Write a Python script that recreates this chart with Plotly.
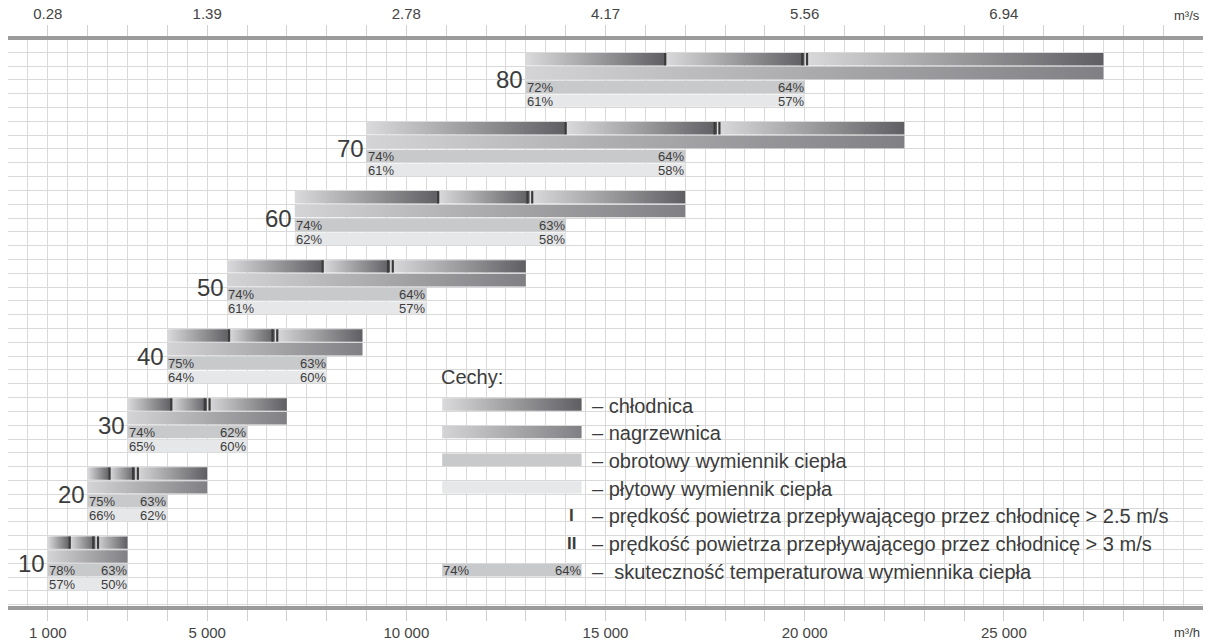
import plotly.graph_objects as go

# unit sizes, top to bottom
sizes = ['80', '70', '60', '50', '40', '30', '20', '10']
flow_start = [13000, 9000, 7200, 5500, 4000, 3000, 2000, 1000]
coil_end = [27500, 22500, 17000, 13000, 8900, 7000, 5000, 3000]
exch_end = [20000, 17000, 14000, 10500, 8000, 6000, 4000, 3000]
speed_25 = [16500, 14000, 10800, 7900, 5550, 4100, 2550, 1550]
speed_3 = [20000, 17800, 13100, 9600, 6700, 5000, 3200, 2200]
rot_eff_max = [72, 74, 74, 74, 75, 74, 75, 78]
rot_eff_min = [64, 64, 63, 64, 63, 62, 63, 63]
plate_eff_max = [61, 61, 62, 61, 64, 65, 66, 57]
plate_eff_min = [57, 58, 58, 57, 60, 60, 62, 50]

bottom_ticks = [1000, 5000, 10000, 15000, 20000, 25000]
bottom_text = ['1 000', '5 000', '10 000', '15 000', '20 000', '25 000']
top_text = ['0.28', '1.39', '2.78', '4.17', '5.56', '6.94']

legend_title = 'Cechy:'
legend_text = ['– chłodnica', '– nagrzewnica', '– obrotowy wymiennik ciepła',
               '– płytowy wymiennik ciepła',
               '– prędkość powietrza przepływającego przez chłodnicę > 2.5 m/s',
               '– prędkość powietrza przepływającego przez chłodnicę > 3 m/s',
               '–  skuteczność temperaturowa wymiennika ciepła']
legend_eff = [74, 64]
legend_x = [10900, 14400]

CHL = ['#dadadc', '#5f5f63']
NAG = ['#d4d4d6', '#808084']
ROT = '#c8c9cb'
PLATE = '#e6e7e8'
MARK = '#3a3a3a'
TXT = '#3c3c3c'
GRID = '#d9d9d9'
INS = 0.05

fig = go.Figure()


def grad_box(x0, x1, row, colors):
    fig.add_trace(go.Scatter(
        x=[x0, x1, x1, x0, x0],
        y=[row + INS, row + INS, row + 1 - INS, row + 1 - INS, row + INS],
        mode='lines', line=dict(width=0), fill='toself',
        fillgradient=dict(type='horizontal',
                          colorscale=[[0, colors[0]], [1, colors[1]]]),
        hoverinfo='skip', showlegend=False))


def flat_bar(x0, x1, row, color):
    fig.add_trace(go.Bar(
        y=[row + 0.5], x=[x1 - x0], base=[x0], orientation='h',
        width=1 - 2 * INS, marker=dict(color=color, line=dict(width=0)),
        hoverinfo='skip', showlegend=False))


annotations = []


def label(x, y, text, anchor, size=13, shift=0):
    annotations.append(dict(x=x, y=y, text=text, showarrow=False,
                            xanchor=anchor, yanchor='middle', xshift=shift,
                            font=dict(size=size, color=TXT)))


mark_x, mark_y = [], []
for g, name in enumerate(sizes):
    r = 5 * g
    # cooler: gradient restarts at each speed marker
    grad_box(flow_start[g], speed_25[g], r, CHL)
    grad_box(speed_25[g], speed_3[g], r, CHL)
    grad_box(speed_3[g], coil_end[g], r, CHL)
    # heater
    grad_box(flow_start[g], coil_end[g], r + 1, NAG)
    # heat exchangers
    flat_bar(flow_start[g], exch_end[g], r + 2, ROT)
    flat_bar(flow_start[g], exch_end[g], r + 3, PLATE)

    for xm in [speed_25[g], speed_3[g] - 60, speed_3[g] + 60]:
        mark_x += [xm, xm, None]
        mark_y += [r + INS, r + 1 - INS, None]

    label(flow_start[g], r + 2.55, f'{rot_eff_max[g]}%', 'left', shift=-1)
    label(exch_end[g], r + 2.55, f'{rot_eff_min[g]}%', 'right', shift=1)
    label(flow_start[g], r + 3.55, f'{plate_eff_max[g]}%', 'left', shift=-1)
    label(exch_end[g], r + 3.55, f'{plate_eff_min[g]}%', 'right', shift=1)
    label(flow_start[g], r + 2.0, name, 'right', size=24, shift=-1)

fig.add_trace(go.Scatter(x=mark_x, y=mark_y, mode='lines',
                         line=dict(color=MARK, width=2.2),
                         hoverinfo='skip', showlegend=False))

# legend block
leg_rows = [25, 27, 29, 31, 33, 35, 37]
grad_box(legend_x[0], legend_x[1], leg_rows[0], CHL)
grad_box(legend_x[0], legend_x[1], leg_rows[1], NAG)
flat_bar(legend_x[0], legend_x[1], leg_rows[2], ROT)
flat_bar(legend_x[0], legend_x[1], leg_rows[3], PLATE)
flat_bar(legend_x[0], legend_x[1], leg_rows[6], ROT)
label(legend_x[0], leg_rows[6] + 0.55, f'{legend_eff[0]}%', 'left', shift=-1)
label(legend_x[1], leg_rows[6] + 0.55, f'{legend_eff[1]}%', 'right', shift=1)
label(legend_x[1], leg_rows[4] + 0.55, '<b>I</b>', 'right', size=17, shift=-6)
label(legend_x[1], leg_rows[5] + 0.55, '<b>II</b>', 'right', size=17, shift=-4)
label(legend_x[0] - 70, 23.5, legend_title, 'left', size=20)
for row, txt in zip(leg_rows, legend_text):
    label(legend_x[1] + 200, row + 0.6, txt, 'left', size=20)

# units
annotations.append(dict(x=29600, y=1.043, yref='paper', text='m³/s',
                        showarrow=False, xanchor='center', yanchor='middle',
                        font=dict(size=13, color=TXT)))
annotations.append(dict(x=29600, y=-0.046, yref='paper', text='m³/h',
                        showarrow=False, xanchor='center', yanchor='middle',
                        font=dict(size=13, color=TXT)))

# dummy trace so the top axis is drawn
fig.add_trace(go.Scatter(x=[0], y=[0], xaxis='x2', mode='markers',
                         marker=dict(opacity=0), hoverinfo='skip',
                         showlegend=False))

tick_vals = list(range(1000, 30000, 1000))
minor_vals = list(range(500, 30000, 1000))
bottom_map = dict(zip(bottom_ticks, bottom_text))
top_map = dict(zip(bottom_ticks, top_text))

axis_common = dict(
    range=[0, 30000], tickmode='array', tickvals=tick_vals,
    ticks='outside', ticklen=11, tickcolor='#d0d0d0', tickwidth=1,
    showline=True, linewidth=4, linecolor='#9b9b9b', zeroline=False,
    tickfont=dict(size=15, color='#444'), fixedrange=True, automargin=False,
)

fig.update_layout(
    width=1211, height=642,
    margin=dict(l=8, r=8, t=40, b=36),
    plot_bgcolor='white', paper_bgcolor='white',
    barmode='overlay', showlegend=False,
    font=dict(family='Liberation Sans, Arial, sans-serif', color=TXT),
    xaxis=dict(
        ticktext=[bottom_map.get(v, '') for v in tick_vals],
        ticklabelstandoff=-1,
        showgrid=True, gridcolor=GRID, gridwidth=1,
        minor=dict(tickvals=minor_vals, showgrid=True, gridcolor=GRID,
                   gridwidth=1, ticks=''),
        **axis_common
    ),
    xaxis2=dict(
        overlaying='x', side='top', anchor='y',
        ticktext=[top_map.get(v, '') for v in tick_vals],
        showgrid=False,
        **axis_common
    ),
    yaxis=dict(
        range=[40.09, -0.89], tickmode='linear', tick0=0, dtick=1,
        showgrid=True, gridcolor=GRID, gridwidth=1,
        showticklabels=False, ticks='', zeroline=False, showline=False,
        fixedrange=True,
    ),
    annotations=annotations,
)

# drop the default page margin so the figure fills the window exactly
fig.write_html('out.html', config={'displayModeBar': False},
               post_script="document.body.style.margin='0';")
